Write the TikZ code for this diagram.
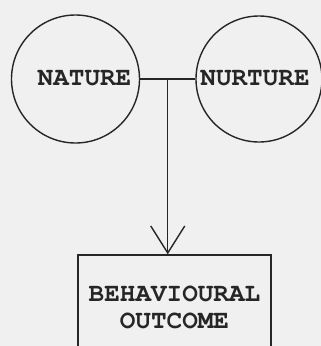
\documentclass[tikz,border=0pt]{standalone}
\usepackage[T1]{fontenc}
\renewcommand{\ttdefault}{pcr}
\usetikzlibrary{calc,arrows.meta}

\begin{document}
\begin{tikzpicture}[x=1pt,y=-1pt,line width=1.4pt,
  every node/.style={font=\ttfamily\bfseries\fontsize{26}{27}\selectfont,text=black!85},
  ball/.style={draw=black!85,circle,minimum size=128pt,inner sep=0pt}]
  \fill[black!6] (0,0) rectangle (321,346);
  \clip (0,0) rectangle (321,346);

  \node[ball,label={[xshift=9pt]center:NATURE}] (nature) at (75.5,79) {};
  \node[ball,minimum size=126pt,label={[xshift=-4pt]center:NURTURE}] (nurture) at (259,79) {};
  \coordinate (junction) at ($(nature.east)!0.5!(nurture.west)$);
  \node[draw=black!85,minimum width=193pt,minimum height=106pt,align=center] (outcome) at (174.5,308) {BEHAVIOURAL\\OUTCOME};

  \draw[black!85] (nature.east) -- (nurture.west);
  \draw[black!85,-{Straight Barb[length=27pt,width=34pt]}] (junction) -- (junction |- outcome.north);
\end{tikzpicture}
\end{document}
